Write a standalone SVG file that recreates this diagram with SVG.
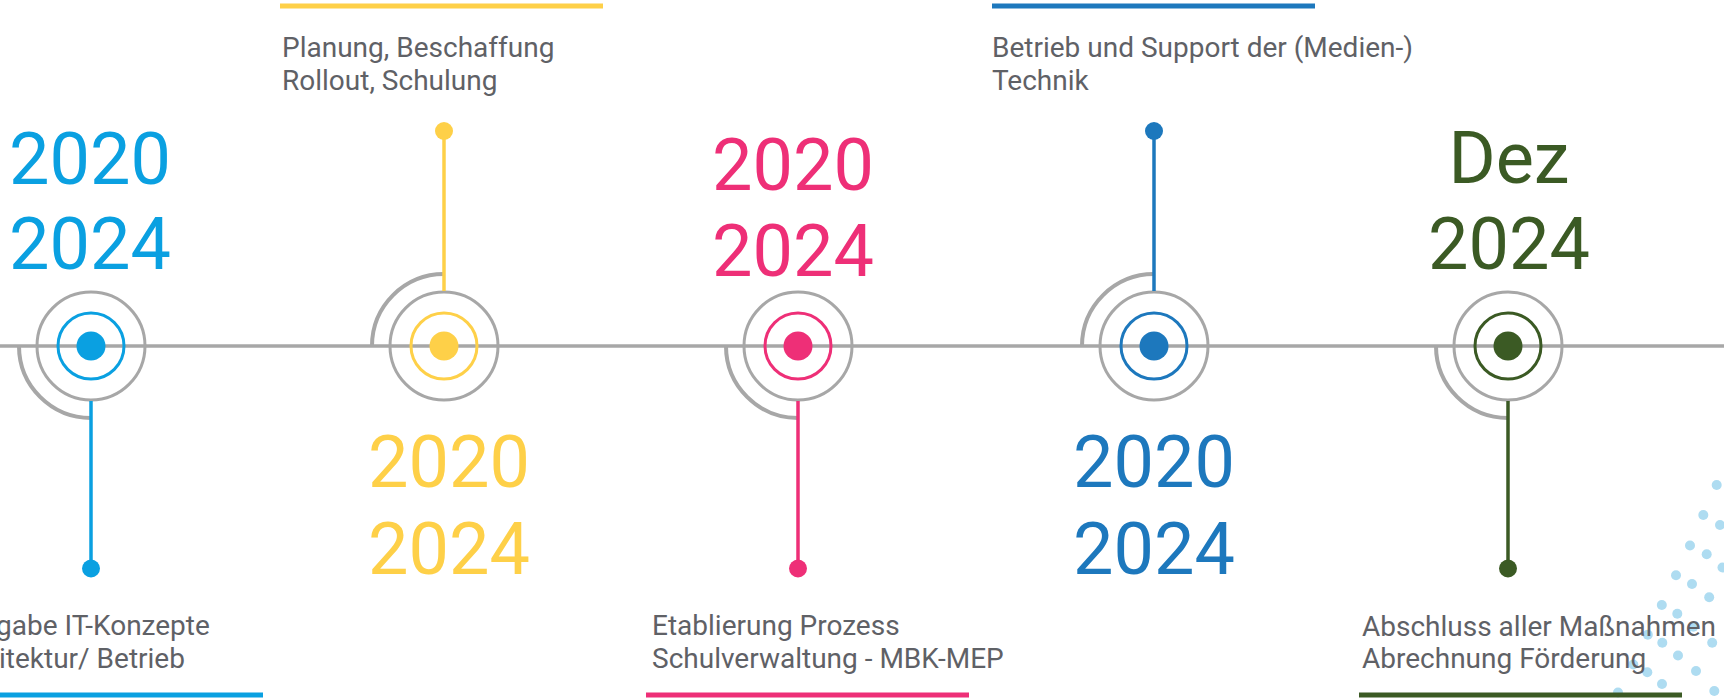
<svg xmlns="http://www.w3.org/2000/svg" width="1724" height="698" viewBox="0 0 1724 698">
<style>
.axis{stroke:#a7a7a7;stroke-width:3.5;fill:none}
.outer{stroke:#a7a7a7;stroke-width:3;fill:none}
.arc{stroke:#a7a7a7;stroke-width:4;fill:none}
.ring{stroke-width:3;fill:none}
.stem{stroke-width:3.5}
.year{font-family:Roboto,"Liberation Sans",sans-serif;font-size:72px;text-anchor:middle}
.lbl{font-family:Roboto,"Liberation Sans",sans-serif;font-size:28px;fill:#5f6166}
.deco{fill:#aedcf1}
.f1{fill:#0aa0e1}.s1{stroke:#0aa0e1}
.f2{fill:#fed048}.s2{stroke:#fed048}
.f3{fill:#ee2f77}.s3{stroke:#ee2f77}
.f4{fill:#1d78bd}.s4{stroke:#1d78bd}
.f5{fill:#3b5a24}.s5{stroke:#3b5a24}
</style>
<rect width="1724" height="698" fill="#ffffff"/>
<g id="decoration">
<circle class="deco" cx="1716.7" cy="485" r="5"/>
<circle class="deco" cx="1703.3" cy="515" r="5"/>
<circle class="deco" cx="1720" cy="525" r="5"/>
<circle class="deco" cx="1690" cy="545.5" r="5"/>
<circle class="deco" cx="1706.7" cy="554.3" r="5"/>
<circle class="deco" cx="1722.5" cy="567.5" r="5"/>
<circle class="deco" cx="1676" cy="575.2" r="5"/>
<circle class="deco" cx="1692" cy="584" r="5"/>
<circle class="deco" cx="1709.2" cy="597.3" r="5"/>
<circle class="deco" cx="1661.8" cy="605" r="5"/>
<circle class="deco" cx="1677.3" cy="613.8" r="5"/>
<circle class="deco" cx="1693.3" cy="626.7" r="5"/>
<circle class="deco" cx="1712.2" cy="642.7" r="5"/>
<circle class="deco" cx="1647.8" cy="634.7" r="5"/>
<circle class="deco" cx="1662.3" cy="642.7" r="5"/>
<circle class="deco" cx="1678" cy="655.5" r="5"/>
<circle class="deco" cx="1696" cy="671" r="5"/>
<circle class="deco" cx="1714.3" cy="691" r="5"/>
<circle class="deco" cx="1633.3" cy="664.5" r="5"/>
<circle class="deco" cx="1647.3" cy="672.3" r="5"/>
<circle class="deco" cx="1662" cy="684" r="5"/>
<circle class="deco" cx="1618" cy="692.5" r="5"/>
</g>
<g id="connectors">
<line class="axis" x1="0" y1="346" x2="1724" y2="346"/>
</g>
<g id="node1">
<path class="arc" d="M19 346 A72 72 0 0 0 91 418"/>
<circle class="outer" cx="91" cy="346" r="54"/>
<circle class="ring s1" cx="91" cy="346" r="33"/>
<circle class="f1" cx="91" cy="346" r="14.5"/>
<line class="stem s1" x1="91" y1="401" x2="91" y2="568"/>
<circle class="f1" cx="91" cy="568.5" r="9"/>
<text class="year f1" x="90" y="184">2020</text>
<text class="year f1" x="90" y="269">2024</text>
<text class="lbl" x="-4" y="635">gabe IT-Konzepte</text>
<text class="lbl" x="-1" y="668">itektur/ Betrieb</text>
<rect class="f1" x="0" y="692.5" width="263" height="5"/>
</g>
<g id="node2">
<path class="arc" d="M372 346 A72 72 0 0 1 444 274"/>
<circle class="outer" cx="444" cy="346" r="54"/>
<circle class="ring s2" cx="444" cy="346" r="33"/>
<circle class="f2" cx="444" cy="346" r="14.5"/>
<line class="stem s2" x1="444" y1="291" x2="444" y2="131"/>
<circle class="f2" cx="444" cy="131" r="9"/>
<text class="year f2" x="449" y="487">2020</text>
<text class="year f2" x="449" y="574">2024</text>
<rect class="f2" x="280" y="3.5" width="323" height="5"/>
<text class="lbl" x="282" y="57">Planung, Beschaffung</text>
<text class="lbl" x="282" y="90">Rollout, Schulung</text>
</g>
<g id="node3">
<path class="arc" d="M726 346 A72 72 0 0 0 798 418"/>
<circle class="outer" cx="798" cy="346" r="54"/>
<circle class="ring s3" cx="798" cy="346" r="33"/>
<circle class="f3" cx="798" cy="346" r="14.5"/>
<line class="stem s3" x1="798" y1="401" x2="798" y2="568"/>
<circle class="f3" cx="798" cy="568.5" r="9"/>
<text class="year f3" x="793" y="190">2020</text>
<text class="year f3" x="793" y="276">2024</text>
<text class="lbl" x="652" y="635">Etablierung Prozess</text>
<text class="lbl" x="652" y="668">Schulverwaltung - MBK-MEP</text>
<rect class="f3" x="646" y="692.5" width="323" height="5"/>
</g>
<g id="node4">
<path class="arc" d="M1082 346 A72 72 0 0 1 1154 274"/>
<circle class="outer" cx="1154" cy="346" r="54"/>
<circle class="ring s4" cx="1154" cy="346" r="33"/>
<circle class="f4" cx="1154" cy="346" r="14.5"/>
<line class="stem s4" x1="1154" y1="291" x2="1154" y2="131"/>
<circle class="f4" cx="1154" cy="131" r="9"/>
<text class="year f4" x="1154" y="487">2020</text>
<text class="year f4" x="1154" y="574">2024</text>
<rect class="f4" x="992" y="3.5" width="323" height="5"/>
<text class="lbl" x="992" y="57">Betrieb und Support der (Medien-)</text>
<text class="lbl" x="992" y="90">Technik</text>
</g>
<g id="node5">
<path class="arc" d="M1436 346 A72 72 0 0 0 1508 418"/>
<circle class="outer" cx="1508" cy="346" r="54"/>
<circle class="ring s5" cx="1508" cy="346" r="33"/>
<circle class="f5" cx="1508" cy="346" r="14.5"/>
<line class="stem s5" x1="1508" y1="401" x2="1508" y2="568"/>
<circle class="f5" cx="1508" cy="568.5" r="9"/>
<text class="year f5" x="1509" y="183">Dez</text>
<text class="year f5" x="1509" y="269">2024</text>
<text class="lbl" x="1362" y="636">Abschluss aller Maßnahmen</text>
<text class="lbl" x="1362" y="668">Abrechnung Förderung</text>
<rect class="f5" x="1359" y="692.5" width="323" height="5"/>
</g>
</svg>
